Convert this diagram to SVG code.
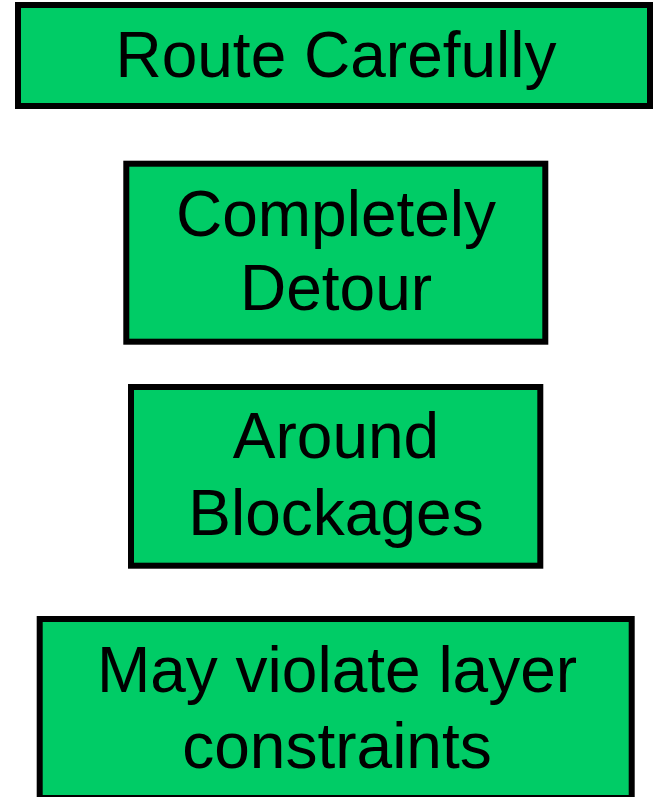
<svg xmlns="http://www.w3.org/2000/svg" width="654" height="797" viewBox="0 0 654 797">
  <style>
    .box { fill: #00CC66; stroke: #000000; stroke-width: 6; }
    .label { font-family: "Liberation Sans", Arial, sans-serif; font-size: 64px; fill: #000000; text-anchor: middle; }
  </style>
  <rect width="654" height="797" fill="#ffffff"/>
  <g id="route-carefully">
    <rect class="box" x="18" y="5" width="632" height="101"/>
    <text class="label" x="336" y="77">Route Carefully</text>
  </g>
  <g id="completely-detour">
    <rect class="box" x="126.3" y="163.7" width="419" height="178"/>
    <text class="label" x="336" y="236">Completely</text>
    <text class="label" x="336" y="310">Detour</text>
  </g>
  <g id="around-blockages">
    <rect class="box" x="131" y="387" width="409.3" height="178.7"/>
    <text class="label" x="336" y="458">Around</text>
    <text class="label" x="336" y="535">Blockages</text>
  </g>
  <g id="may-violate">
    <rect class="box" x="39.7" y="619" width="592" height="179"/>
    <text class="label" x="337" y="692">May violate layer</text>
    <text class="label" x="337" y="768">constraints</text>
  </g>
  <g id="connectors"/>
</svg>
